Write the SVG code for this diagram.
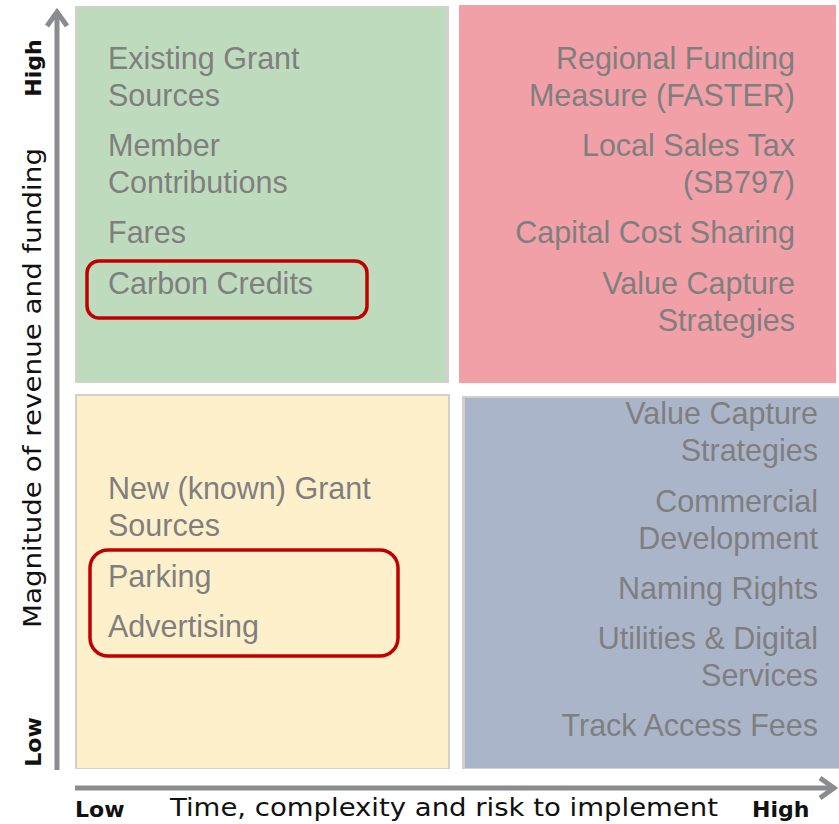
<svg xmlns="http://www.w3.org/2000/svg" width="839" height="824" viewBox="0 0 839 824">
<style>
.q{font-family:"Liberation Sans",Arial,sans-serif;font-size:30.5px;fill:#7f7f7f}
.r{text-anchor:end}
.ax{font-family:"DejaVu Sans","Open Sans",sans-serif;fill:#111}
.b{font-weight:bold;font-size:22px}
.hl{fill:none;stroke:#c00000;stroke-width:3.5}
.axis{stroke:#8b8c90;stroke-width:5;fill:none}
</style>
<rect width="839" height="824" fill="#ffffff"/>
<g id="q-green">
<rect x="75" y="6" width="374" height="377" fill="#d3cfca"/>
<rect x="77" y="8" width="369" height="374" fill="#bfdbbd"/>
<text class="q" x="108" y="69">Existing Grant</text>
<text class="q" x="108" y="106">Sources</text>
<text class="q" x="108" y="156">Member</text>
<text class="q" x="108" y="193">Contributions</text>
<text class="q" x="108" y="243">Fares</text>
<text class="q" x="108" y="294">Carbon Credits</text>
</g>
<g id="q-pink">
<rect x="459" y="5" width="377" height="378" fill="#f2a0a8"/>
<text class="q r" x="795" y="69">Regional Funding</text>
<text class="q r" x="795" y="106">Measure (FASTER)</text>
<text class="q r" x="795" y="156">Local Sales Tax</text>
<text class="q r" x="795" y="193">(SB797)</text>
<text class="q r" x="795" y="243">Capital Cost Sharing</text>
<text class="q r" x="795" y="294">Value Capture</text>
<text class="q r" x="795" y="331">Strategies</text>
</g>
<g id="q-yellow">
<rect x="75" y="394" width="375" height="375" fill="#d3cfca"/>
<rect x="77" y="396" width="371" height="372" fill="#fff0cc"/>
<text class="q" x="108" y="499">New (known) Grant</text>
<text class="q" x="108" y="536">Sources</text>
<text class="q" x="108" y="587">Parking</text>
<text class="q" x="108" y="637">Advertising</text>
</g>
<g id="q-blue">
<rect x="462" y="396" width="377" height="373" fill="#d3cfca"/>
<rect x="465" y="398" width="374" height="370" fill="#abb5c9"/>
<text class="q r" x="818" y="424">Value Capture</text>
<text class="q r" x="818" y="461">Strategies</text>
<text class="q r" x="818" y="512">Commercial</text>
<text class="q r" x="818" y="549">Development</text>
<text class="q r" x="818" y="599">Naming Rights</text>
<text class="q r" x="818" y="649">Utilities &amp; Digital</text>
<text class="q r" x="818" y="686">Services</text>
<text class="q r" x="818" y="736">Track Access Fees</text>
</g>
<g id="highlights">
<rect class="hl" x="87" y="261" width="280" height="57" rx="12"/>
<rect class="hl" x="90" y="550" width="308" height="106" rx="18"/>
</g>
<g id="connectors">
<line class="axis" x1="57" y1="770" x2="57" y2="12"/>
<polyline class="axis" points="47,26 57,12 67,26" stroke-linejoin="miter"/>
<line class="axis" x1="75" y1="788" x2="833" y2="788"/>
<polyline class="axis" points="820,778 834,788 820,798"/>
</g>
<g id="axis-labels">
<text class="ax b" transform="translate(41,68) rotate(-90)" text-anchor="middle">High</text>
<text class="ax b" transform="translate(41,742) rotate(-90)" text-anchor="middle">Low</text>
<text class="ax" font-size="24" transform="translate(41,388) rotate(-90)" text-anchor="middle" textLength="480" lengthAdjust="spacingAndGlyphs">Magnitude of revenue and funding</text>
<text class="ax b" x="75" y="817">Low</text>
<text class="ax" font-size="24" x="170" y="816" textLength="548" lengthAdjust="spacingAndGlyphs">Time, complexity and risk to implement</text>
<text class="ax b" x="752" y="817">High</text>
</g>
</svg>
